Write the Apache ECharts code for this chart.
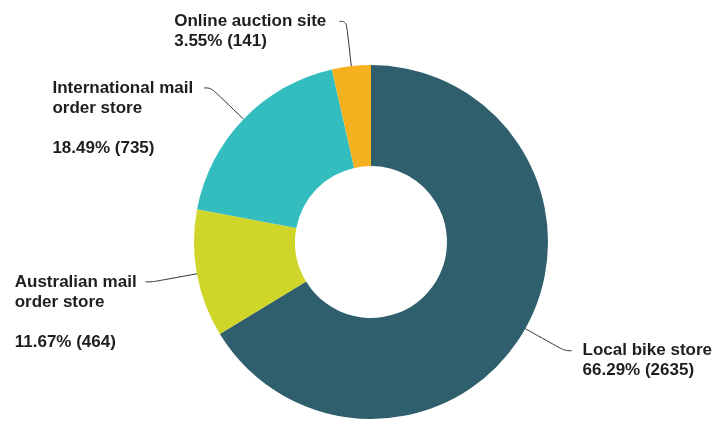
<!DOCTYPE html>
<html>
<head>
<meta charset="utf-8">
<title>Where bikes were bought</title>
<script src="https://cdn.jsdelivr.net/npm/echarts/dist/echarts.min.js"></script>
<style>
  html, body { margin: 0; padding: 0; background: #ffffff; }
  #chart { width: 721px; height: 421px; }
</style>
</head>
<body>
<div id="chart"></div>
<script>
// Purchase channels and response counts
const categories = [
  'Local bike store',
  'Australian mail order store',
  'International mail order store',
  'Online auction site'
];
const counts = [2635, 464, 735, 141];
// How each category name is broken over lines in its label
const nameLines = [
  ['Local bike store'],
  ['Australian mail', 'order store'],
  ['International mail', 'order store'],
  ['Online auction site']
];

// Styling
const colors = ['#2f5f6c', '#cfd629', '#33bdbe', '#f6b120'];
const labelGap = [11, 9, 11, 13];
const LINE_H = 20;

function labelLineCount(i) {
  const n = nameLines[i].length;
  return n > 1 ? n + 2 : n + 1; // wrapped names get a blank line before the value
}

const seriesData = categories.map(function (name, i) {
  return {
    name: name,
    value: counts[i],
    itemStyle: { color: colors[i] },
    label: {
      // top padding keeps the leader line pointing at the first text line
      padding: [(labelLineCount(i) - 1) * LINE_H, 0, 0, 0],
      distanceToLabelLine: labelGap[i]
    }
  };
});

const chart = echarts.init(document.getElementById('chart'), null, { renderer: 'canvas' });

chart.setOption({
  animation: false,
  backgroundColor: '#ffffff',
  series: [{
    type: 'pie',
    center: [371, 242],
    radius: [76, 177],
    startAngle: 90,
    clockwise: true,
    avoidLabelOverlap: false,
    labelLayout: { hideOverlap: false },
    itemStyle: { borderWidth: 0 },
    label: {
      show: true,
      position: 'outside',
      alignTo: 'none',
      bleedMargin: 0,
      color: '#1e1e1e',
      fontFamily: '"Liberation Sans", Arial, sans-serif',
      fontWeight: 'bold',
      fontSize: 17,
      lineHeight: LINE_H,
      formatter: function (p) {
        const lines = nameLines[p.dataIndex].map(function (s) { return '{t|' + s + '}'; });
        if (lines.length > 1) lines.push('{t| }');
        lines.push('{t|' + p.percent.toFixed(2) + '% (' + p.value + ')}');
        return lines.join('\n');
      },
      rich: {
        t: {
          align: 'left',
          color: '#1e1e1e',
          fontFamily: '"Liberation Sans", Arial, sans-serif',
          fontWeight: 'bold',
          fontSize: 17,
          lineHeight: LINE_H
        }
      }
    },
    labelLine: {
      show: true,
      length: 45,
      length2: 7,
      smooth: 0.4,
      lineStyle: { color: '#333333', width: 1 }
    },
    emphasis: { disabled: true },
    data: seriesData
  }]
});
</script>
</body>
</html>
